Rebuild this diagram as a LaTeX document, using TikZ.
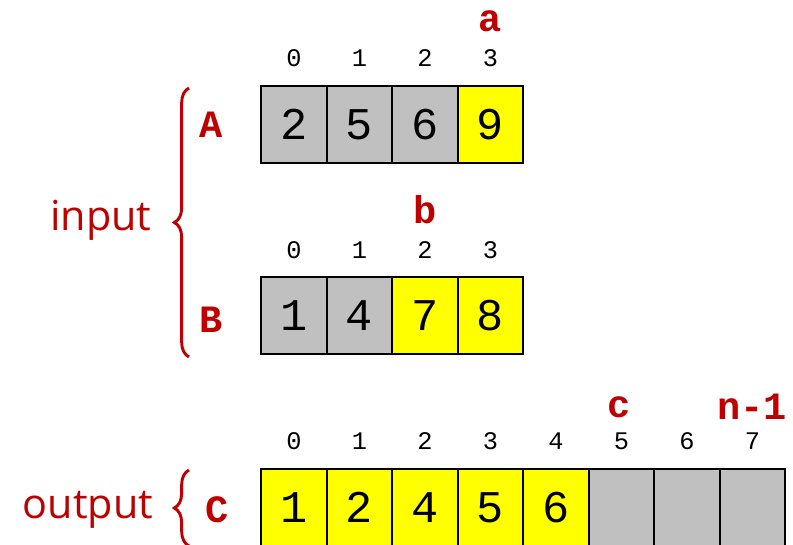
\documentclass[tikz,border=0pt]{standalone}
\usepackage{fontspec}
\setmonofont{Liberation Mono}
\setsansfont{Open Sans}
\usetikzlibrary{decorations.pathreplacing}
\definecolor{hired}{HTML}{C00000}
\definecolor{cellgray}{HTML}{C0C0C0}
\definecolor{cellyellow}{HTML}{FFFF00}
\begin{document}
\begin{tikzpicture}[x=0.75pt, y=-0.75pt,
  cell/.style={draw=black, line width=1.5pt, minimum width=49.1pt, minimum height=57.75pt,
    inner sep=0pt, font=\ttfamily\fontsize{34}{36}\selectfont},
  idx/.style={font=\ttfamily\fontsize{19}{21}\selectfont},
  var/.style={text=hired, font=\ttfamily\bfseries\fontsize{29}{31}\selectfont},
  side/.style={text=hired, font=\sffamily\fontsize{31}{34}\selectfont},
  curly/.style={draw=hired, line width=2.2pt, decorate, decoration={brace, amplitude=11pt}}]
  \useasboundingbox (0,0) rectangle (793,545);

  % Array A: 2 5 6 9, pointer a at index 3
  \foreach \v [count=\i from 0] in {2,5,6,9} {
    \ifnum\i<3 \def\fc{cellgray}\else \def\fc{cellyellow}\fi
    \node[cell, fill=\fc] (a\i) at (294+65.5*\i,124.5) {\v};
    \node[idx] (ai\i) at (294+65.5*\i,58) {\i};
  }
  \node[var] (ptra) at (490,21) {a};
  \node[var] (lblA) at (211,125) {A};

  % Array B: 1 4 7 8, pointer b at index 2
  \foreach \v [count=\i from 0] in {1,4,7,8} {
    \ifnum\i<2 \def\fc{cellgray}\else \def\fc{cellyellow}\fi
    \node[cell, fill=\fc] (b\i) at (294+65.5*\i,316) {\v};
    \node[idx] (bi\i) at (294+65.5*\i,250) {\i};
  }
  \node[var] (ptrb) at (425,210) {b};
  \node[var] (lblB) at (211,320) {B};

  % Array C: merged result, pointer c at index 5
  \foreach \v [count=\i from 0] in {1,2,4,5,6,{},{},{}} {
    \ifnum\i<5 \def\fc{cellyellow}\else \def\fc{cellgray}\fi
    \node[cell, fill=\fc] (c\i) at (294+65.5*\i,507.5) {\v};
    \node[idx] (ci\i) at (294+65.5*\i,441) {\i};
  }
  \node[var] (ptrc) at (619,407) {c};
  \node[var] (ptrn) at (752,407) {n-1};
  \node[var] (lblC) at (217,510) {C};

  % braces and side labels
  \coordinate (inbot) at (189,357);
  \coordinate (intop) at (189,88);
  \draw[curly] (inbot) -- (intop);
  \node[side] (inlbl) at (101,220) {input};
  \coordinate (outbot) at (189,546);
  \coordinate (outtop) at (189,470);
  \draw[curly] (outbot) -- (outtop);
  \node[side] (outlbl) at (88,510) {output};
\end{tikzpicture}
\end{document}
